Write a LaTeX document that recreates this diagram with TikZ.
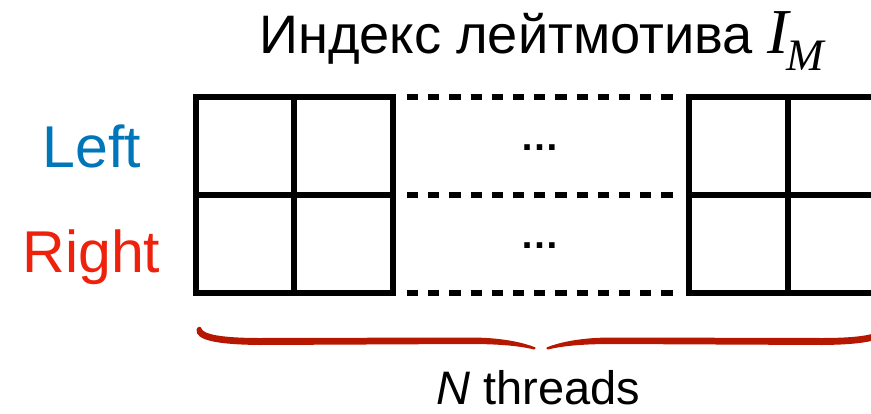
\documentclass[tikz,border=0pt]{standalone}
\usepackage{fontspec}
\setmainfont{Liberation Sans}
\newfontfamily\timesfont{Liberation Serif}
\definecolor{kblue}{HTML}{0076BA}
\definecolor{kred}{HTML}{EE220C}
\definecolor{kbrick}{HTML}{B51700}
\begin{document}
\begin{tikzpicture}[x=1pt,y=-1pt,
  gridline/.style={line width=5.2pt, line cap=rect},
  dashline/.style={line width=5.2pt, dash pattern=on 11.1pt off 10.1pt},
  rowlbl/.style={inner sep=0pt, anchor=base, font=\fontsize{59}{60}\selectfont},
  dotslbl/.style={inner sep=0pt, anchor=base, font=\bfseries\fontsize{39}{40}\selectfont},
  bracehalf/.style={fill=kbrick, draw=none}]
\useasboundingbox (0,0) rectangle (871,413);
\clip (0,0) rectangle (871,413);
% title
\node[inner sep=0pt, anchor=base west, font=\fontsize{54.2}{56}\selectfont] (title) at (259,53)
  {Индекс лейтмотива {\timesfont\itshape\fontsize{64}{64}\selectfont I\hspace{-3pt}\raisebox{-17pt}{\fontsize{45}{45}\selectfont M}}};
% row labels
\node[rowlbl, text=kblue] (left) at (92,167) {Left};
\node[rowlbl, text=kred] (right) at (91.5,272) {Right};
% solid grid, left block
\draw[gridline] (196,97) -- (393,97) (196,195) -- (393,195) (196,293) -- (393,293);
\draw[gridline] (196,97) -- (196,293) (294,97) -- (294,293) (393,97) -- (393,293);
% solid grid, right block
\draw[gridline] (689,97) -- (890,97) (689,195) -- (890,195) (689,293) -- (890,293);
\draw[gridline] (689,97) -- (689,293) (788,97) -- (788,293);
% dashed middle
\draw[dashline] (407,97) -- (674,97) (407,195) -- (674,195) (407,293) -- (674,293);
% ellipses
\node[dotslbl] (dotsA) at (539.5,150) {…};
\node[dotslbl] (dotsB) at (539.5,248.5) {…};
% brace
\begin{scope}[xshift=541pt]
\fill[bracehalf] (-344.5,330) .. controls (-345,340) and (-326,344.5) .. (-281,345) -- (-71,344)
  .. controls (-41,344) and (-21,346) .. (-7,349.5) .. controls (-6,349.7) and (-5,348) .. (-5.5,347.5)
  .. controls (-19,342) and (-41,337.5) .. (-71,337.5) -- (-281,338)
  .. controls (-321,338) and (-338,334) .. (-339.5,328.5) .. controls (-340,326) and (-344,326) .. (-344.5,330) -- cycle;
\end{scope}
\begin{scope}[xshift=541pt, xscale=-1]
\fill[bracehalf] (-344.5,330) .. controls (-345,340) and (-326,344.5) .. (-281,345) -- (-71,344)
  .. controls (-41,344) and (-21,346) .. (-7,349.5) .. controls (-6,349.7) and (-5,348) .. (-5.5,347.5)
  .. controls (-19,342) and (-41,337.5) .. (-71,337.5) -- (-281,338)
  .. controls (-321,338) and (-338,334) .. (-339.5,328.5) .. controls (-340,326) and (-344,326) .. (-344.5,330) -- cycle;
\end{scope}
\node[inner sep=0pt, anchor=base, text depth=0pt, font=\fontsize{47}{48}\selectfont] (nthreads) at (538.5,404) {\textit{N} threads};
\end{tikzpicture}
\end{document}
